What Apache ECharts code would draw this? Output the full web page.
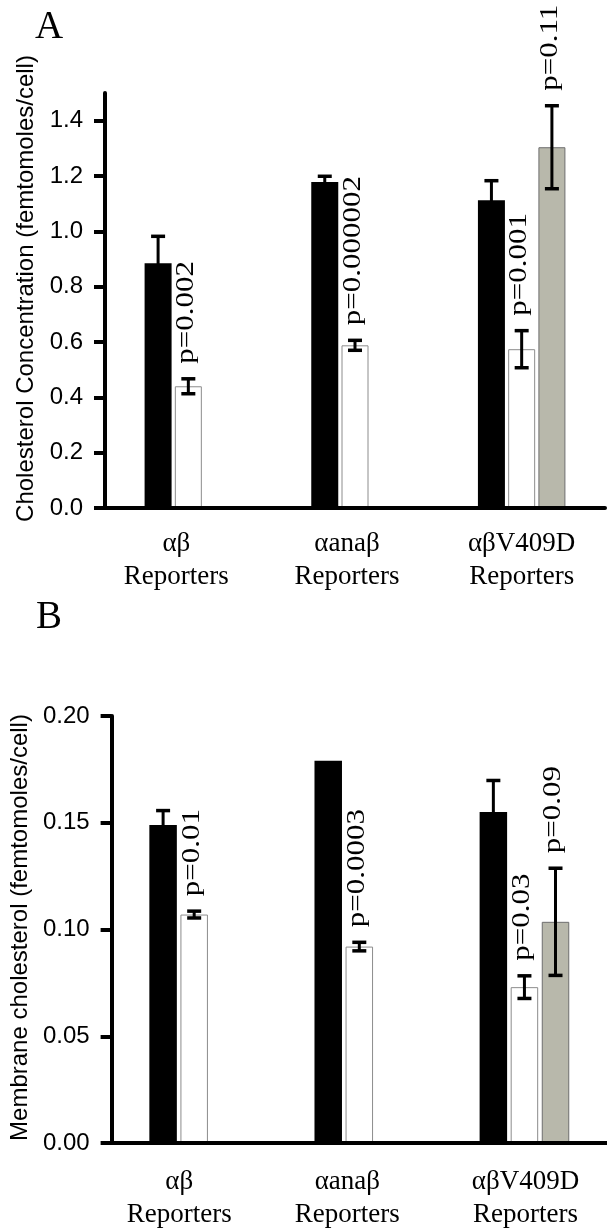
<!DOCTYPE html>
<html>
<head>
<meta charset="utf-8">
<script src="https://cdn.jsdelivr.net/npm/echarts@6/dist/echarts.min.js"></script>
<style>
  html, body { margin: 0; padding: 0; background: #fff; }
  #chart { width: 607px; height: 1228px; }
</style>
</head>
<body>
<div id="chart"></div>
<script>
// ---- data ----
const categories = ['αβ\nReporters', 'αanaβ\nReporters', 'αβV409D\nReporters'];

// Panel A: cholesterol concentration (femtomoles/cell)
const ticksA = [0, 0.2, 0.4, 0.6, 0.8, 1.0, 1.2, 1.4];
const totalBlack = [0.885, 1.178, 1.112];
const totalBlackErr = [0.097, 0.021, 0.071];
const totalWhite = [0.440, 0.588, 0.574];
const totalWhiteErr = [0.027, 0.018, 0.067];
const totalGray = [null, null, 1.304];
const totalGrayErr = [null, null, 0.150];
const totalWhiteP = ['p=0.002', 'p=0.000002', 'p=0.001'];
const totalGrayP = [null, null, 'p=0.11'];

// Panel B: membrane cholesterol (femtomoles/cell)
const ticksB = [0, 0.05, 0.10, 0.15, 0.20];
const membBlack = [0.149, 0.179, 0.155];
const membBlackErr = [0.0067, 0, 0.0148];
const membWhite = [0.107, 0.092, 0.073];
const membWhiteErr = [0.0016, 0.002, 0.0053];
const membGray = [null, null, 0.1036];
const membGrayErr = [null, null, 0.0251];
const membWhiteP = ['p=0.01', 'p=0.0003', 'p=0.03'];
const membGrayP = [null, null, 'p=0.09'];

// ---- styling ----
const SANS = '"Liberation Sans", Arial, sans-serif';
const SERIF = '"Liberation Serif", "Times New Roman", serif';
const BAR = {
  a: { barWidth: 27, barGap: '12%' },
  b: { barWidth: 27.5, barGap: '13%' }
};
const FILL = {
  black: { color: '#000' },
  white: { color: '#fff', borderColor: '#8c8c8c', borderWidth: 1 },
  gray: { color: '#b8b8ab', borderColor: '#6e6e6e', borderWidth: 1 }
};

function toBarData(arr) {
  return arr.map(v => (v == null ? '-' : v));
}

function barSeries(values, fill, axis, layout) {
  return {
    type: 'bar',
    xAxisIndex: axis, yAxisIndex: axis,
    data: toBarData(values),
    barWidth: layout.barWidth,
    barGap: layout.barGap,
    itemStyle: fill,
    silent: true,
    z: 2
  };
}

// Error bars plus the rotated p-value text above them.
function errorSeries(values, errs, pLabels, slot, axis, layout) {
  const data = [];
  values.forEach((v, i) => { if (v != null) data.push([i, v]); });
  return {
    type: 'custom',
    xAxisIndex: axis, yAxisIndex: axis,
    clip: false,
    silent: true,
    z: 6,
    data: data,
    renderItem: function (params, api) {
      const cat = api.value(0);
      const v = api.value(1);
      const e = errs[cat] || 0;
      const txt = pLabels ? pLabels[cat] : null;
      let off;
      if (api.barLayout) {
        const lay = api.barLayout({ count: 3, barWidth: layout.barWidth, barGap: layout.barGap });
        off = lay[slot].offsetCenter;
      } else {
        off = (slot - 1) * layout.barWidth * (1 + parseFloat(layout.barGap) / 100);
      }
      const x = api.coord([cat, 0])[0] + off;
      const yHi = api.coord([cat, v + e])[1];
      const yLo = api.coord([cat, v - e])[1];
      const children = [];
      if (e > 0) {
        const ls = { stroke: '#000', lineWidth: 3 };
        const cs = { stroke: '#000', lineWidth: 3.5 };
        children.push({ type: 'line', shape: { x1: x, y1: yLo, x2: x, y2: yHi }, style: ls });
        children.push({ type: 'line', shape: { x1: x - 7, y1: yHi, x2: x + 7, y2: yHi }, style: cs });
        children.push({ type: 'line', shape: { x1: x - 7, y1: yLo, x2: x + 7, y2: yLo }, style: cs });
      }
      if (txt) {
        children.push({
          type: 'text',
          x: x - 2,
          y: (e > 0 ? yHi : api.coord([cat, v])[1]) - 15,
          rotation: Math.PI / 2,
          scaleY: 0.82,
          style: {
            text: txt,
            font: '31px ' + SERIF,
            fill: '#000',
            align: 'left',
            verticalAlign: 'middle'
          }
        });
      }
      return { type: 'group', children: children };
    }
  };
}

function categoryAxis(grid, shifts, margin) {
  const rich = {};
  shifts.forEach((s, i) => {
    rich['c' + i] = {
      fontFamily: SERIF, fontSize: 27, lineHeight: 33, color: '#000',
      padding: s < 0 ? [0, -2 * s, 0, 0] : [0, 0, 0, 2 * s]
    };
  });
  return {
    type: 'category',
    gridIndex: grid,
    data: categories,
    z: 5,
    axisLine: { show: true, lineStyle: { color: '#000', width: 4 } },
    axisTick: { show: false },
    splitLine: { show: false },
    axisLabel: {
      margin: margin,
      interval: 0,
      formatter: (value, index) =>
        value.split('\n').map(l => '{c' + index + '|' + l + '}').join('\n'),
      rich: rich
    }
  };
}

function valueAxis(grid, max, ticks, digits, title, nameGap, namePad) {
  return {
    type: 'value',
    gridIndex: grid,
    min: 0,
    max: max,
    z: 5,
    name: title,
    nameLocation: 'middle',
    nameGap: nameGap,
    nameTextStyle: {
      fontFamily: SANS, fontSize: 24, color: '#000',
      padding: namePad
    },
    axisLine: { show: true, lineStyle: { color: '#000', width: 4 } },
    axisTick: {
      show: true, length: 11, customValues: ticks,
      lineStyle: { color: '#000', width: 4 }
    },
    splitLine: { show: false },
    axisLabel: {
      customValues: ticks,
      margin: 22,
      fontFamily: SANS, fontSize: 24, color: '#000',
      formatter: v => Number(v).toFixed(digits)
    }
  };
}

const chart = echarts.init(document.getElementById('chart'), null, { renderer: 'canvas' });

chart.setOption({
  animation: false,
  backgroundColor: '#fff',
  grid: [
    { left: 105, top: 93, width: 500, height: 415 },
    { left: 105, top: 716, width: 510, height: 427 }
  ],
  xAxis: [
    categoryAxis(0, [-12, -8, 0], 19),
    categoryAxis(1, [-15, -12, 1], 22)
  ],
  yAxis: [
    valueAxis(0, 1.5, ticksA, 1, 'Cholesterol Concentration (femtomoles/cell)', 66, [0, 0, 0, 24]),
    valueAxis(1, 0.2, ticksB, 2, 'Membrane cholesterol (femtomoles/cell)', 66, [0, 0, 0, 4])
  ],
  graphic: [
    { type: 'text', left: 35, top: 8, style: { text: 'A', font: '39px ' + SERIF, fill: '#000' } },
    { type: 'text', left: 36, top: 598, style: { text: 'B', font: '39px ' + SERIF, fill: '#000' } }
  ],
  series: [
    barSeries(totalBlack, FILL.black, 0, BAR.a),
    barSeries(totalWhite, FILL.white, 0, BAR.a),
    barSeries(totalGray, FILL.gray, 0, BAR.a),
    errorSeries(totalBlack, totalBlackErr, null, 0, 0, BAR.a),
    errorSeries(totalWhite, totalWhiteErr, totalWhiteP, 1, 0, BAR.a),
    errorSeries(totalGray, totalGrayErr, totalGrayP, 2, 0, BAR.a),

    barSeries(membBlack, FILL.black, 1, BAR.b),
    barSeries(membWhite, FILL.white, 1, BAR.b),
    barSeries(membGray, FILL.gray, 1, BAR.b),
    errorSeries(membBlack, membBlackErr, null, 0, 1, BAR.b),
    errorSeries(membWhite, membWhiteErr, membWhiteP, 1, 1, BAR.b),
    errorSeries(membGray, membGrayErr, membGrayP, 2, 1, BAR.b)
  ]
});
</script>
</body>
</html>
